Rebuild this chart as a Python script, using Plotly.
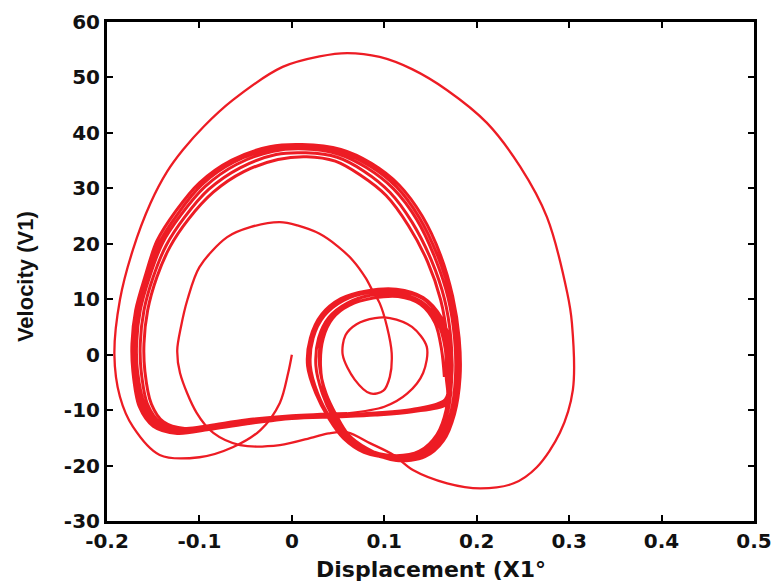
import plotly.graph_objects as go

# ---- transient: start at origin, large outer orbit ----
outer_x = [0.0, -0.004, -0.013, -0.034, -0.064, -0.1, -0.143, -0.172, -0.186, -0.192, -0.186, -0.172,
           -0.153, -0.135, -0.118, -0.095, -0.064, -0.01, 0.03, 0.06, 0.095, 0.13, 0.168, 0.211,
           0.247, 0.276, 0.298, 0.303, 0.304, 0.29, 0.265, 0.24, 0.204, 0.168, 0.131, 0.11]
outer_y = [0.0, -3.3, -8.7, -13.6, -16.7, -18.5, -18.1, -13.0, -7.6, 0.0, 9.9, 18.9,
           27.3, 33.0, 36.9, 41.2, 45.9, 51.9, 53.8, 54.4, 53.7, 51.5, 47.7, 41.8,
           33.9, 24.8, 11.1, 5.7, -6.4, -14.1, -20.3, -23.2, -24.1, -23.2, -20.8, -18.1]

# ---- transient: medium arc (peak ~24) and small inner loop ----
arc_x = [0.085, 0.06, 0.04, 0.023, -0.013, -0.056, -0.085, -0.103, -0.121, -0.124, -0.12, -0.113,
         -0.1, -0.07, -0.045, -0.013, 0.006, 0.03, 0.05, 0.066, 0.08, 0.088, 0.095, 0.103, 0.108,
         0.106, 0.099, 0.085, 0.068, 0.055, 0.058, 0.07, 0.09, 0.106, 0.13, 0.146, 0.142, 0.125, 0.1]
arc_y = [-16.0, -14.0, -14.2, -14.9, -16.3, -16.3, -14.1, -10.5, -3.3, 0.8, 5.0, 9.9,
         15.8, 21.2, 23.0, 23.9, 23.3, 21.8, 19.5, 17.0, 13.8, 11.3, 9.3, 5.0, 0.3,
         -4.0, -6.5, -7.0, -4.5, 0.0, 3.5, 5.5, 6.6, 6.6, 5.0, 1.4, -3.3, -7.0, -9.4]

# ---- attractor: big-lobe passes ----
big1_x = [0.06, 0.0, -0.05, -0.09, -0.116, -0.139, -0.152, -0.159, -0.16, -0.156, -0.146, -0.132, -0.112,
          -0.085, -0.052, -0.015, 0.016, 0.047, 0.074, 0.102, 0.126, 0.147, 0.161, 0.168, 0.17, 0.167,
          0.157, 0.138, 0.11]
big1_y = [-10.6, -11.0, -11.8, -12.8, -13.3, -12.1, -8.9, -3.0, 2.0, 8.0, 14.0, 19.4, 24.4,
          29.3, 33.0, 35.2, 35.7, 34.9, 32.4, 28.7, 23.3, 16.7, 9.9, 3.0, -4.0, -9.9,
          -14.4, -17.4, -18.2]
big2_x = [0.167, 0.13, 0.09, 0.05, 0.0, -0.05, -0.09, -0.12, -0.145, -0.159, -0.167, -0.168, -0.164, -0.154,
          -0.14, -0.12, -0.094, -0.06, -0.02, 0.014, 0.05, 0.081, 0.11, 0.135, 0.155, 0.169, 0.176,
          0.177, 0.172, 0.161, 0.141, 0.111]
big2_y = [-8.3, -10.0, -10.6, -10.9, -11.2, -12.2, -13.2, -13.9, -12.6, -9.2, -3.0, 2.0, 8.0, 14.0,
          20.1, 25.2, 30.3, 34.3, 36.7, 37.1, 36.2, 33.7, 29.9, 24.4, 17.4, 10.3, 3.0,
          -4.0, -10.4, -15.0, -18.0, -18.8]
big3_x = [0.169, 0.13, 0.09, 0.05, 0.0, -0.05, -0.09, -0.124, -0.15, -0.165, -0.172, -0.173, -0.169, -0.159,
          -0.146, -0.126, -0.1, -0.065, -0.024, 0.011, 0.053, 0.086, 0.116, 0.141, 0.161, 0.174, 0.181,
          0.182, 0.176, 0.164, 0.144, 0.113]
big3_y = [-8.7, -10.3, -10.9, -11.2, -11.5, -12.5, -13.5, -14.2, -12.9, -9.4, -3.0, 2.0, 8.0, 14.0,
          20.5, 25.8, 31.0, 35.1, 37.5, 37.9, 37.0, 34.5, 30.6, 25.0, 17.9, 10.5, 3.0,
          -4.0, -10.7, -15.5, -18.4, -19.1]
big4_x = [0.166, 0.13, 0.09, 0.05, 0.0, -0.05, -0.09, -0.118, -0.142, -0.156, -0.163, -0.164, -0.16, -0.15,
          -0.136, -0.116, -0.09, -0.056, -0.017, 0.015, 0.049, 0.078, 0.106, 0.13, 0.151, 0.165, 0.172,
          0.173, 0.169, 0.159, 0.139, 0.11]
big4_y = [-8.1, -9.9, -10.5, -10.8, -11.1, -12.0, -13.0, -13.6, -12.3, -9.0, -3.0, 2.0, 8.0, 14.0,
          19.7, 24.8, 29.8, 33.7, 36.1, 36.4, 35.6, 33.1, 29.3, 23.9, 17.0, 10.1, 3.0,
          -4.0, -10.1, -14.7, -17.7, -18.5]
big5_x = [0.168, 0.13, 0.09, 0.05, 0.0, -0.05, -0.09, -0.122, -0.147, -0.162, -0.17, -0.171, -0.167, -0.157,
          -0.143, -0.123, -0.097, -0.063, -0.022, 0.012, 0.052, 0.084, 0.113, 0.138, 0.158, 0.172, 0.179,
          0.18, 0.174, 0.163, 0.143, 0.112]
big5_y = [-8.5, -10.2, -10.8, -11.1, -11.4, -12.4, -13.4, -14.1, -12.8, -9.3, -3.0, 2.0, 8.0, 14.0,
          20.3, 25.5, 30.7, 34.7, 37.1, 37.5, 36.6, 34.1, 30.3, 24.7, 17.7, 10.4, 3.0,
          -4.0, -10.6, -15.3, -18.2, -19.0]

# ---- attractor: small-lobe passes ----
small1_x = [0.08, 0.06, 0.047, 0.036, 0.031, 0.034, 0.044, 0.063, 0.088, 0.115, 0.14, 0.158, 0.166, 0.167]
small1_y = [-17.0, -14.5, -11.0, -7.0, -2.0, 3.0, 6.5, 9.0, 10.2, 10.5, 9.2, 5.7, 1.0, -4.0]
small2_x = [0.079, 0.057, 0.041, 0.028, 0.02, 0.023, 0.035, 0.056, 0.083, 0.114, 0.142, 0.161, 0.171, 0.172]
small2_y = [-17.4, -14.9, -11.3, -7.0, -2.0, 3.0, 7.0, 9.8, 11.2, 11.5, 10.1, 6.4, 1.3, -4.0]
small3_x = [0.08, 0.059, 0.044, 0.033, 0.026, 0.029, 0.04, 0.06, 0.085, 0.114, 0.14, 0.159, 0.168, 0.17]
small3_y = [-17.1, -14.6, -11.1, -7.0, -2.0, 3.0, 6.7, 9.3, 10.7, 11.0, 9.6, 6.0, 1.1, -4.0]
small4_x = [0.078, 0.056, 0.04, 0.026, 0.017, 0.02, 0.032, 0.053, 0.081, 0.113, 0.142, 0.162, 0.172, 0.173]
small4_y = [-17.6, -15.1, -11.5, -7.0, -2.0, 3.0, 7.2, 10.1, 11.5, 11.8, 10.3, 6.6, 1.4, -4.0]
small5_x = [0.081, 0.061, 0.048, 0.037, 0.03, 0.032, 0.042, 0.062, 0.087, 0.115, 0.139, 0.155, 0.162, 0.165]
small5_y = [-16.9, -14.4, -10.9, -7.0, -2.0, 3.0, 6.4, 8.9, 10.2, 10.5, 9.1, 5.7, 0.9, -4.0]

x_ticks = [-0.2, -0.1, 0, 0.1, 0.2, 0.3, 0.4, 0.5]
x_tick_labels = ["-0.2", "-0.1", "0", "0.1", "0.2", "0.3", "0.4", "0.5"]
y_ticks = [-30, -20, -10, 0, 10, 20, 30, 40, 50, 60]
y_tick_labels = ["-30", "-20", "-10", "0", "10", "20", "30", "40", "50", "60"]

x_title = "Displacement (X1°"
y_title = "Velocity (V1)"

att_x = (big1_x + small1_x + big2_x + small2_x + big3_x + small3_x
         + big4_x + small4_x + big5_x + small5_x)
att_y = (big1_y + small1_y + big2_y + small2_y + big3_y + small3_y
         + big4_y + small4_y + big5_y + small5_y)

RED = "rgb(237,28,36)"
INK = "#111111"

fig = go.Figure()
# transient part
fig.add_trace(go.Scatter(x=outer_x + arc_x + att_x[:1], y=outer_y + arc_y + att_y[:1], mode="lines",
                         line=dict(color=RED, width=2.3, shape="spline", smoothing=0.9),
                         hoverinfo="skip", showlegend=False))
# attractor band
fig.add_trace(go.Scatter(x=att_x, y=att_y, mode="lines",
                         line=dict(color=RED, width=3.0, shape="spline", smoothing=0.9),
                         hoverinfo="skip", showlegend=False))

tickfont = dict(family="DejaVu Sans", size=20, color=INK, weight="bold")
axis_common = dict(showline=True, linecolor="black", linewidth=3, mirror="ticks",
                   ticks="inside", ticklen=6, tickwidth=2, tickcolor="black",
                   showgrid=False, zeroline=False, tickfont=tickfont, automargin=False)

fig.update_xaxes(range=[-0.2, 0.5], tickvals=x_ticks, ticktext=x_tick_labels, **axis_common)
fig.update_yaxes(range=[-30, 60], tickvals=y_ticks, ticktext=y_tick_labels, **axis_common)

fig.add_annotation(text=x_title, xref="paper", yref="paper", x=0.5, y=-0.098,
                   xanchor="center", yanchor="middle", showarrow=False,
                   font=dict(family="DejaVu Sans", size=22, color=INK, weight="bold"))
fig.add_annotation(text=y_title, xref="paper", yref="paper", x=-0.125, y=0.489,
                   xanchor="center", yanchor="middle", textangle=-90, showarrow=False,
                   font=dict(family="Liberation Sans", size=22, color=INK, weight="bold"))

fig.update_layout(width=775, height=583, margin=dict(l=107, r=21, t=22, b=62),
                  paper_bgcolor="white", plot_bgcolor="white")

fig.write_html("out.html", config={"displayModeBar": False},
               post_script="document.body.style.margin='0px';document.body.style.padding='0px';")
